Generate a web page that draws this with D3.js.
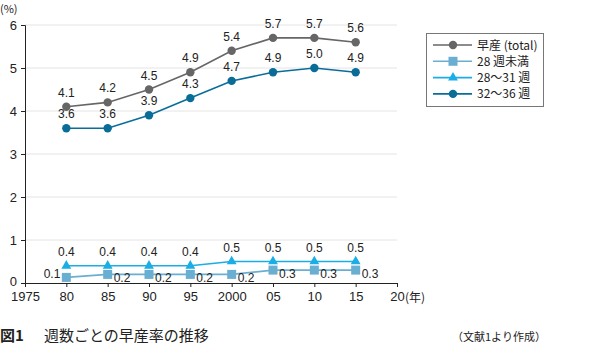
<!DOCTYPE html>
<html>
<head>
<meta charset="utf-8">
<script src="https://cdn.jsdelivr.net/npm/d3@7"></script>
<style>
  body { margin: 0; background: #fff; }
  text { font-family: "Liberation Sans", Arial, "Noto Sans CJK JP", sans-serif; }
  .jp { font-family: "Noto Sans CJK JP", sans-serif; }
</style>
</head>
<body>
<script>
// data
var years = [1980, 1985, 1990, 1995, 2000, 2005, 2010, 2015];
var total = [4.1, 4.2, 4.5, 4.9, 5.4, 5.7, 5.7, 5.6];
var under28 = [0.13, 0.2, 0.2, 0.2, 0.2, 0.3, 0.3, 0.3];
var w28to31 = [0.4, 0.4, 0.4, 0.4, 0.5, 0.5, 0.5, 0.5];
var w32to36 = [3.6, 3.6, 3.9, 4.3, 4.7, 4.9, 5.0, 4.9];
var xTicks = [1975, 1980, 1985, 1990, 1995, 2000, 2005, 2010, 2015, 2020];
var xTickLabels = ["1975", "80", "85", "90", "95", "2000", "05", "10", "15", "20"];
var yTicks = [0, 1, 2, 3, 4, 5, 6];

var series = [
  {name: "早産 (total)", values: total, color: "#666666", shape: "circle", label: "above"},
  {name: "28 週未満", values: under28, color: "#6aafd2", shape: "square", label: "right"},
  {name: "28～31 週", values: w28to31, color: "#1aade6", shape: "triangle", label: "above"},
  {name: "32～36 週", values: w32to36, color: "#0a6d98", shape: "circle", label: "above"}
];

var width = 595, height = 358;
var svg = d3.select("body").append("svg")
    .attr("width", width)
    .attr("height", height);

var x = d3.scaleLinear().domain([1975, 2020]).range([25, 397]);
var y = d3.scaleLinear().domain([0, 6]).range([283, 25]);

// gridlines
svg.append("g")
  .selectAll("line")
  .data(yTicks.filter(function(d) { return d > 0; }))
  .enter().append("line")
    .attr("x1", x(1975)).attr("x2", x(2020))
    .attr("y1", function(d) { return y(d); })
    .attr("y2", function(d) { return y(d); })
    .attr("stroke", "#e4e4e4");

// axes
var yAxis = svg.append("g")
    .attr("transform", "translate(" + x(1975) + ",0)")
    .call(d3.axisLeft(y).tickValues(yTicks).tickSize(4).tickPadding(4).tickFormat(d3.format("d")));
yAxis.selectAll("text").attr("font-size", 13).attr("fill", "#222");
yAxis.selectAll(".tick").filter(function(d) { return d === 0; }).select("text").attr("dy", "0.2em");

var xAxis = svg.append("g")
    .attr("transform", "translate(0," + y(0) + ")")
    .call(d3.axisBottom(x).tickValues(xTicks).tickSize(4).tickPadding(5)
      .tickFormat(function(d, i) { return xTickLabels[i]; }));
xAxis.selectAll("text").attr("font-size", 13).attr("fill", "#222");

svg.selectAll(".domain, .tick line").attr("stroke", "#222");

svg.append("text").attr("class", "jp")
    .attr("x", 0).attr("y", 13).attr("font-size", 11).attr("fill", "#222")
    .text("(%)");
svg.append("text").attr("class", "jp")
    .attr("x", 405).attr("y", 302).attr("font-size", 12).attr("fill", "#222")
    .text("(年)");

function drawMarker(g, shape, cx, cy, color) {
  if (shape === "circle") {
    g.append("circle").attr("cx", cx).attr("cy", cy).attr("r", 4.2).attr("fill", color);
  } else if (shape === "square") {
    g.append("rect").attr("x", cx - 4.5).attr("y", cy - 4.5).attr("width", 9).attr("height", 9).attr("fill", color);
  } else {
    g.append("path").attr("d", d3.symbol().type(d3.symbolTriangle).size(42)()).attr("transform", "translate(" + cx + "," + cy + ")").attr("fill", color);
  }
}

var line = d3.line()
    .x(function(d, i) { return x(years[i]); })
    .y(function(d) { return y(d); });

series.forEach(function(s) {
  var g = svg.append("g");
  g.append("path")
    .datum(s.values)
    .attr("d", line)
    .attr("fill", "none")
    .attr("stroke", s.color)
    .attr("stroke-width", 1.6);
  s.values.forEach(function(v, i) {
    drawMarker(g, s.shape, x(years[i]), y(v), s.color);
    var t = g.append("text").attr("font-size", 12).attr("fill", "#222").text(d3.format(".1f")(v));
    if (s.label === "above") {
      t.attr("x", x(years[i])).attr("y", y(v) - 10).attr("text-anchor", "middle");
    } else if (i === 0) {
      t.attr("x", x(years[i]) - 6).attr("y", y(v) + 1).attr("text-anchor", "end");
    } else {
      t.attr("x", x(years[i]) + 6).attr("y", y(v) + 8).attr("text-anchor", "start");
    }
  });
});

// legend
var legend = svg.append("g");
legend.append("rect")
    .attr("x", 426.5).attr("y", 33.5).attr("width", 117).attr("height", 73)
    .attr("fill", "#fff").attr("stroke", "#777");
series.forEach(function(s, i) {
  var ly = 45 + i * 16.3;
  legend.append("line")
    .attr("x1", 433).attr("x2", 472).attr("y1", ly).attr("y2", ly)
    .attr("stroke", s.color).attr("stroke-width", 1.6);
  drawMarker(legend, s.shape, 453, ly, s.color);
  legend.append("text").attr("class", "jp")
    .attr("x", 477).attr("y", ly + 4.5).attr("font-size", 12).attr("fill", "#222")
    .text(s.name);
});

// caption
svg.append("text").attr("class", "jp")
    .attr("x", 0).attr("y", 341).attr("font-size", 15).attr("font-weight", "bold").attr("fill", "#222")
    .text("図1");
svg.append("text").attr("class", "jp")
    .attr("x", 44).attr("y", 341).attr("font-size", 15).attr("fill", "#222")
    .text("週数ごとの早産率の推移");
svg.append("text").attr("class", "jp")
    .attr("x", 452).attr("y", 341).attr("font-size", 11).attr("fill", "#222")
    .text("（文献1より作成）");
</script>
</body>
</html>
